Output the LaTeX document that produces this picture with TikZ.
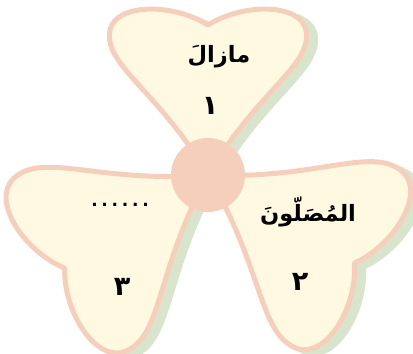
\documentclass[tikz,border=0pt]{standalone}
\usepackage{fontspec}
\newfontfamily\arabicfont[Script=Arabic]{DejaVu Sans}
\TeXXeTstate=1
\definecolor{petalfill}{HTML}{FFF9E1}
\definecolor{petalline}{HTML}{F6CFBC}
\definecolor{shadowgreen}{HTML}{D8E5CC}
\tikzset{
  petal/.pic={\path[pic actions] (0,0) .. controls (-50,85) and (-105,110) .. (-98,145)
     .. controls (-92,172) and (-35,172) .. (0,150)
     .. controls (35,172) and (92,172) .. (98,145)
     .. controls (105,110) and (50,85) .. (0,0) -- cycle;},
  petalstyle/.style={fill=petalfill, draw=petalline, line width=5pt, line join=round},
  shadowstyle/.style={fill=shadowgreen, draw=shadowgreen, line width=5pt, line join=round},
  word/.style={font=\arabicfont\bfseries\fontsize{22.5}{26}\selectfont, inner sep=0pt},
  dots/.style={font=\arabicfont\bfseries\fontsize{17}{20}\selectfont\addfontfeature{LetterSpace=22}, inner sep=0pt},
  digit/.style={font=\arabicfont\bfseries\fontsize{27}{30}\selectfont, inner sep=0pt}
}
\begin{document}
\begin{tikzpicture}[x=1pt,y=1pt]
\useasboundingbox (0,0) rectangle (413,354);
\coordinate (c) at (208,179);
\coordinate (cs) at (217,175);
% shadows
\pic[shadowstyle] at (cs) {petal};
\pic[shadowstyle, rotate=123, xscale=1.05, yscale=1.14] at (cs) {petal};
\pic[shadowstyle, rotate=-121, xscale=1.05, yscale=1.14] at (cs) {petal};
% petals
\pic[petalstyle] at (c) {petal};
\pic[petalstyle, rotate=123, xscale=1.05, yscale=1.14] at (c) {petal};
\pic[petalstyle, rotate=-121, xscale=1.05, yscale=1.14] at (c) {petal};
% centre
\node[circle, fill=petalline, minimum size=74pt, inner sep=0pt] (hub) at (c) {};
% texts
\node[word] (w1) at (219,297) {\beginR مازالَ\endR};
\node[digit] (n1) at (210,248) {١};
\node[word] (w2) at (308,142) {\beginR المُصَلّونَ\endR};
\node[digit] (n2) at (300,72) {٢};
\node[dots, anchor=base] (w3) at (120,147) {......};
\node[digit] (n3) at (122,67) {٣};
\end{tikzpicture}
\end{document}
